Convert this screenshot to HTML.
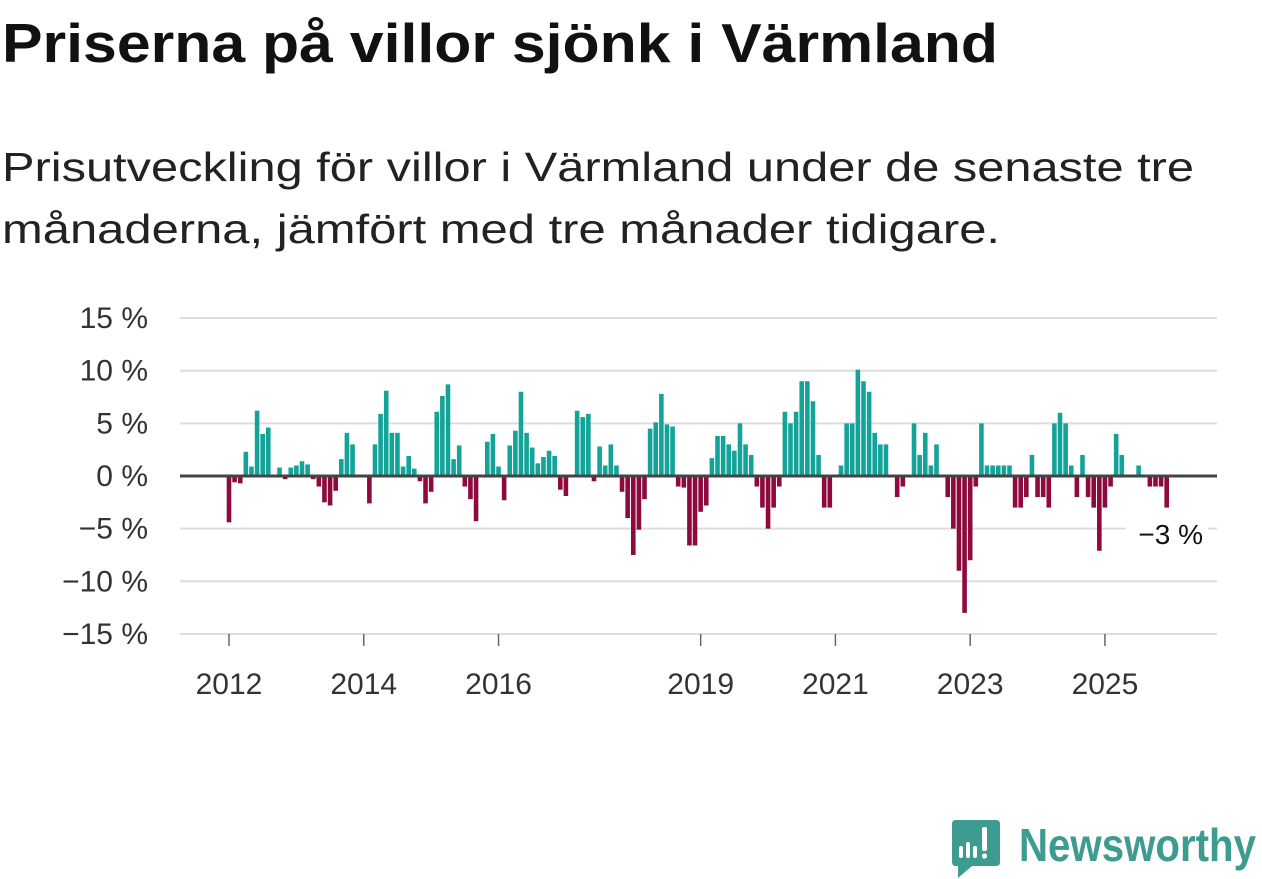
<!DOCTYPE html>
<html><head><meta charset="utf-8">
<style>
html,body{margin:0;padding:0;background:#fff;width:1262px;height:879px;overflow:hidden;}
svg text{font-family:"Liberation Sans",sans-serif;}
</style></head>
<body>
<svg id="chart" width="1262" height="879" xmlns="http://www.w3.org/2000/svg">
<text x="2" y="62" font-size="55" font-weight="bold" fill="#111" textLength="996" lengthAdjust="spacingAndGlyphs">Priserna på villor sjönk i Värmland</text>
<text x="2" y="181" font-size="41" fill="#222" textLength="1192" lengthAdjust="spacingAndGlyphs">Prisutveckling för villor i Värmland under de senaste tre</text>
<text x="2" y="243" font-size="41" fill="#222" textLength="998" lengthAdjust="spacingAndGlyphs">månaderna, jämfört med tre månader tidigare.</text>
<g id="grid"></g>
<g id="bars"></g>
<g id="axes"></g>
<g>
<path d="M958 820 H996 Q1000 820 1000 824 V862 Q1000 866 996 866 H972 L958 878 V866 H956 Q952 866 952 862 V824 Q952 820 956 820 Z" fill="#3e9b90"/>
<rect x="959" y="846" width="4" height="12" rx="2" fill="#fff"/>
<rect x="966" y="842" width="4" height="16" rx="2" fill="#fff"/>
<rect x="973" y="846" width="4" height="12" rx="2" fill="#fff"/>
<rect x="982" y="827" width="5" height="24" rx="2" fill="#fff"/>
<circle cx="984.5" cy="856" r="2.6" fill="#fff"/>
<text x="1019" y="861" font-size="46" font-weight="bold" fill="#3e9b90" textLength="237" lengthAdjust="spacingAndGlyphs">Newsworthy</text>
</g>
</svg>
<script>
const values = [
-4.4,-0.6,-0.7,2.3,0.9,6.2,4.0,4.6,0,0.8,-0.3,0.8,
1.0,1.4,1.1,-0.3,-1.0,-2.5,-2.8,-1.4,1.6,4.1,3.0,0,
0,-2.6,3.0,5.9,8.1,4.1,4.1,0.9,1.9,0.7,-0.5,-2.6,
-1.5,6.1,7.6,8.7,1.6,2.9,-1.0,-2.2,-4.3,0,3.25,4.0,
0.9,-2.3,2.9,4.3,8.0,4.1,2.7,1.2,1.8,2.4,1.9,-1.3,
-1.9,0,6.2,5.6,5.9,-0.5,2.8,1.0,3.0,1.0,-1.5,-4.0,
-7.5,-5.1,-2.2,4.5,5.1,7.8,4.9,4.7,-1.0,-1.1,-6.6,-6.6,
-3.4,-2.8,1.7,3.8,3.8,3.0,2.4,5.0,3.0,2.0,-1.0,-3.0,
-5.0,-3.0,-1.0,6.1,5.0,6.1,9.0,9.0,7.1,2.0,-3.0,-3.0,
0,1.0,5.0,5.0,10.1,9.0,8.0,4.1,3.0,3.0,0,-2.0,
-1.0,0,5.0,2.0,4.1,1.0,3.0,0,-2.0,-5.0,-9.0,-13.0,
-8.0,-1.0,5.0,1.0,1.0,1.0,1.0,1.0,-3.0,-3.0,-2.0,2.0,
-2.0,-2.0,-3.0,5.0,6.0,5.0,1.0,-2.0,2.0,-2.0,-3.0,-7.1,
-3.0,-1.0,4.0,2.0,0,0,1.0,0,-1.0,-1.0,-1.0,-3.0
];
const startYear = 2012;
const yTicks = [15,10,5,0,-5,-10,-15];
const xTickYears = [2012,2014,2016,2019,2021,2023,2025];
const lastLabel = "\u22123 %";

const NS="http://www.w3.org/2000/svg";
const x0=229, pitch=5.615, bw=4.6;
const y0=476, pxPer=10.53;
const xScale = i => x0 + i*pitch;
const yScale = v => y0 - v*pxPer;
function mk(tag, attrs, parent){const e=document.createElementNS(NS,tag);for(const k in attrs)e.setAttribute(k,attrs[k]);parent.appendChild(e);return e;}
const grid=document.getElementById('grid'), bars=document.getElementById('bars'), axes=document.getElementById('axes');
yTicks.forEach(t=>{
  if(t!==0){
    const l=mk('line',{x1:180,x2:1217,y1:yScale(t),y2:yScale(t),stroke:'#dedede','stroke-width':2},grid);
    
    
  }
  const tx=mk('text',{x:148,y:yScale(t)+10,'font-size':30,'text-anchor':'end',fill:'#333'},axes);
  tx.textContent=(t<0?'\u2212'+Math.abs(t):t)+' %';
  
  
});
values.forEach((v,i)=>{
  if(v===0)return;
  const y=v>0?yScale(v):y0, h=Math.abs(v)*pxPer;
  const r=mk('rect',{x:xScale(i)-bw/2,y:y,width:bw,height:h,fill:v>0?'#14a398':'#8c0a3e'},bars);
  
  
});
const zl=mk('line',{x1:180,x2:1217,y1:y0,y2:y0,stroke:'#444','stroke-width':3},axes);


xTickYears.forEach(yr=>{
  const x=xScale((yr-startYear)*12);
  const tk=mk('line',{x1:x,x2:x,y1:634,y2:646,stroke:'#666','stroke-width':1.5},axes);
  
  
  const tx=mk('text',{x:x,y:694,'font-size':30,'text-anchor':'middle',fill:'#333'},axes);
  tx.textContent=yr;
  
  
});
const bg=mk('rect',{x:1126,y:516,width:82,height:36,fill:'#fff'},axes);


const lab=mk('text',{x:1203,y:544,'font-size':28,'text-anchor':'end',fill:'#111'},axes);
lab.textContent=lastLabel;


</script>
</body></html>
